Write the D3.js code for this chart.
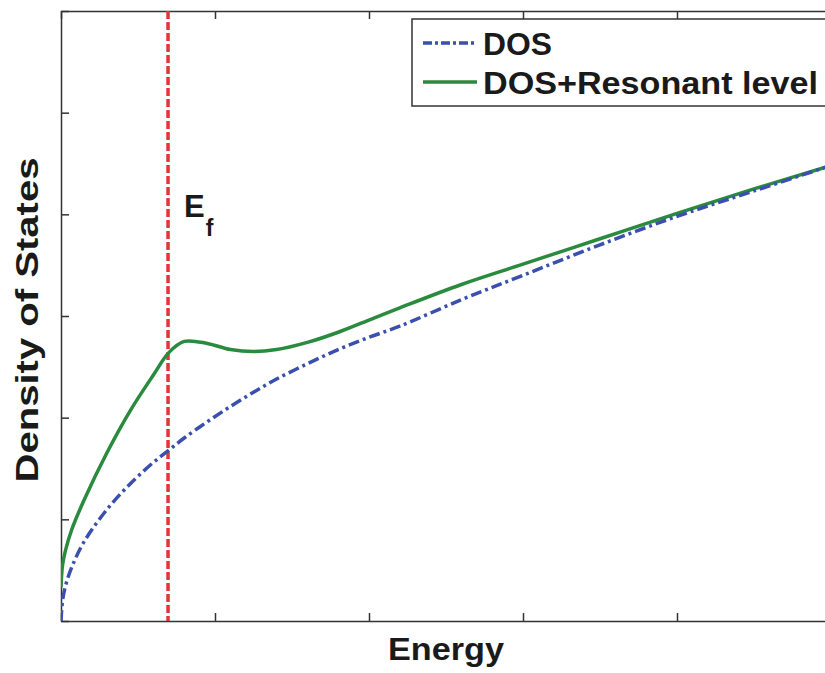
<!DOCTYPE html>
<html lang="en">
  <head>
    <meta charset='utf-8'>
    <script src="https://cdn.jsdelivr.net/npm/d3@7"></script>
    <title>Density of States</title>
    <style>
      body { margin:0; background:white; }
      text { font-family: Arial, "Liberation Sans", Helvetica, sans-serif; font-weight:bold; fill:#1a1a1a; }
    </style>
  </head>
  <body>
    <div id="chart"></div>
    <script type="text/javascript">
      //Data
      var energy    = [0, 0.01, 0.03, 0.07, 0.15, 0.3, 0.45, 0.6, 0.7, 0.8, 0.95, 1.1, 1.25, 1.4, 1.6, 1.8, 2.0, 2.2, 2.6, 3.0, 3.5, 4.0, 4.5, 5.0];
      var dos       = [0, 0.2, 0.35, 0.53, 0.78, 1.10, 1.35, 1.56, 1.68, 1.80, 1.96, 2.11, 2.25, 2.38, 2.53, 2.67, 2.79, 2.90, 3.16, 3.40, 3.70, 3.98, 4.23, 4.48];
      var resonant  = [0.33, 0.55, 0.7, 0.9, 1.19, 1.66, 2.07, 2.42, 2.64, 2.75, 2.73, 2.67, 2.65, 2.67, 2.74, 2.84, 2.96, 3.08, 3.31, 3.51, 3.76, 4.01, 4.25, 4.48];
      var fermiLevel = 0.695;
      var xTicks = [0, 1, 2, 3, 4, 5];
      var yTicks = [0, 1, 2, 3, 4, 5, 6];
      var legendLabels = ["DOS", "DOS+Resonant level"];

      var w = 825, h = 673;
      var padL = 61, padR = 831, padT = 11, padB = 621;

      var svg = d3.select("#chart")
        .append("svg")
        .attr("width", w)
        .attr("height", h);

      var x = d3.scaleLinear().domain([0, 5]).range([padL, padR]);
      var y = d3.scaleLinear().domain([0, 6]).range([padB, padT]);

      //Clip for the plot area
      svg.append("clipPath").attr("id", "plotclip")
        .append("rect")
        .attr("x", padL).attr("y", padT)
        .attr("width", padR - padL).attr("height", padB - padT);

      //Axes, ticks pointing inwards, no labels
      function styleAxis(g) {
        g.selectAll("path").attr("stroke", "#333").attr("stroke-width", 1.5);
        g.selectAll("line").attr("stroke", "#333").attr("stroke-width", 1.5);
        g.selectAll("text").remove();
      }
      svg.append("g").attr("transform", "translate(0," + padB + ")")
        .call(d3.axisBottom(x).tickValues(xTicks).tickSize(-8).tickSizeOuter(0)).call(styleAxis);
      svg.append("g").attr("transform", "translate(0," + padT + ")")
        .call(d3.axisTop(x).tickValues(xTicks).tickSize(-8).tickSizeOuter(0)).call(styleAxis);
      svg.append("g").attr("transform", "translate(" + padL + ",0)")
        .call(d3.axisLeft(y).tickValues(yTicks).tickSize(-8).tickSizeOuter(0)).call(styleAxis);

      var plot = svg.append("g").attr("clip-path", "url(#plotclip)");

      var rows = energy.map(function(e, i){ return {e: e, dos: dos[i], res: resonant[i]}; });

      //Fermi level
      plot.append("line")
        .attr("x1", x(fermiLevel)).attr("x2", x(fermiLevel))
        .attr("y1", y(6)).attr("y2", y(0))
        .attr("stroke", "#e8323a")
        .attr("stroke-width", 3.5)
        .attr("stroke-dasharray", "8,3");

      //DOS+resonant level
      plot.append("path")
        .datum(rows)
        .attr("fill", "none")
        .attr("stroke", "#2a8a3e")
        .attr("stroke-width", 3.5)
        .attr("d", d3.line().curve(d3.curveCatmullRom.alpha(0.5))
          .x(function(d){ return x(d.e); })
          .y(function(d){ return y(d.res); }));

      //DOS
      plot.append("path")
        .datum(rows)
        .attr("fill", "none")
        .attr("stroke", "#3a4fae")
        .attr("stroke-width", 3.5)
        .attr("stroke-dasharray", "11,4,3,4")
        .attr("d", d3.line().curve(d3.curveCatmullRom.alpha(0.5))
          .x(function(d){ return x(d.e); })
          .y(function(d){ return y(d.dos); }));

      //E_f label
      var ef = svg.append("text").attr("x", 184).attr("y", 217).style("font-size", "31px");
      ef.append("tspan").text("E");
      ef.append("tspan").attr("dy", 19).attr("dx", 1).style("font-size", "23px").text("f");

      //Legend
      var legend = svg.append("g");
      legend.append("rect")
        .attr("x", 412).attr("y", 19).attr("width", 420).attr("height", 87)
        .attr("fill", "white").attr("stroke", "#333").attr("stroke-width", 1.5);
      legend.append("line")
        .attr("x1", 423).attr("x2", 477).attr("y1", 43).attr("y2", 43)
        .attr("stroke", "#3a4fae").attr("stroke-width", 3.5).attr("stroke-dasharray", "9,3,3,3");
      legend.append("line")
        .attr("x1", 423).attr("x2", 477).attr("y1", 82).attr("y2", 82)
        .attr("stroke", "#2a8a3e").attr("stroke-width", 3.5);
      var legendWidths = [69, 335];
      legend.selectAll(".leg")
        .data(legendLabels)
        .enter()
        .append("text")
        .attr("x", 483)
        .attr("y", function(d, i){ return 55 + i * 39; })
        .attr("textLength", function(d, i){ return legendWidths[i]; })
        .attr("lengthAdjust", "spacingAndGlyphs")
        .style("font-size", "32px")
        .text(function(d){ return d; });

      //Axis titles
      svg.append("text")
        .attr("x", 446).attr("y", 660)
        .attr("text-anchor", "middle")
        .attr("textLength", 116)
        .attr("lengthAdjust", "spacingAndGlyphs")
        .style("font-size", "32px")
        .text("Energy");
      svg.append("text")
        .attr("transform", "translate(38,320) rotate(-90)")
        .attr("text-anchor", "middle")
        .attr("textLength", 325)
        .attr("lengthAdjust", "spacingAndGlyphs")
        .style("font-size", "32px")
        .text("Density of States");
    </script>
  </body>
</html>
